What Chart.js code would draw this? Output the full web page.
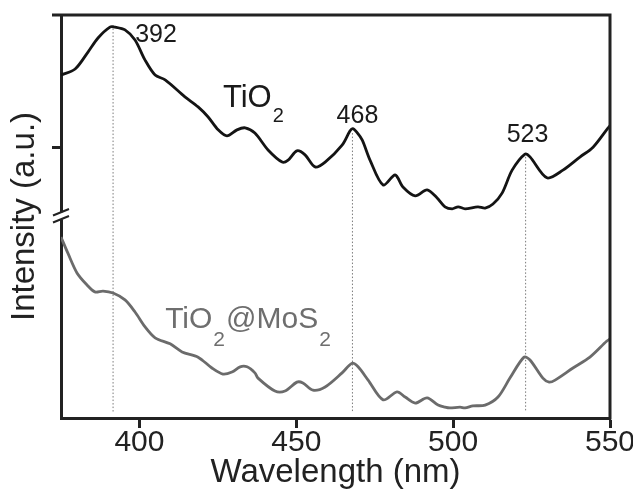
<!DOCTYPE html>
<html>
<head>
<meta charset="utf-8">
<script src="https://cdn.jsdelivr.net/npm/chart.js@4/dist/chart.umd.min.js"></script>
<style>
  html, body { margin: 0; padding: 0; background: #fff; }
  #wrap { width: 633px; height: 490px; position: relative; }
</style>
</head>
<body>
<div id="wrap"><canvas id="chart"></canvas></div>
<script>
// wavelength (nm) / intensity (a.u.)
const tio2Nm = [375, 379.5, 383.6, 386.8, 390.6, 392.2, 395.4, 398.6, 401.8, 405.0, 408.2, 414.5, 418.7, 421.9, 425.1, 427.9, 431.1, 433.7, 436.8, 441.0, 445.5, 447.4, 450.2, 452.8, 456.0, 459.2, 464.6, 467.1, 468.0, 469.2, 471.0, 473.5, 477.7, 481.5, 484.0, 487.9, 491.7, 494.9, 497.4, 499.7, 501.6, 503.8, 507.9, 510.2, 512.7, 515.6, 518.8, 522.9, 524.5, 529.9, 535.0, 540.5, 544.6, 549.4, 550];
const tio2Int = [85.1, 86.6, 90.8, 94.3, 97.0, 97.0, 96.3, 93.8, 88.8, 85.1, 83.9, 79.7, 77.2, 74.7, 71.5, 70.0, 71.5, 72.0, 70.7, 66.5, 63.5, 64.0, 66.3, 65.3, 62.3, 63.5, 67.7, 71.2, 71.8, 71.0, 69.0, 64.0, 57.8, 60.3, 57.3, 55.1, 56.6, 54.6, 52.4, 51.9, 52.4, 51.9, 52.4, 52.1, 53.1, 55.8, 61.5, 65.5, 64.8, 59.6, 61.5, 64.8, 67.2, 72.0, 72.5];

const mosNm = [375, 377.2, 380.1, 383.3, 385.8, 388.4, 391.6, 395.4, 398.6, 401.8, 405.0, 409.8, 413.6, 418.7, 423.1, 426.6, 429.5, 432.1, 434.3, 436.8, 437.8, 443.2, 446.4, 450.2, 452.1, 455.3, 459.2, 464.6, 467.8, 469.7, 472.9, 477.7, 482.1, 484.7, 487.9, 491.7, 495.2, 497.4, 499.0, 502.2, 503.8, 506.3, 510.2, 514.3, 518.1, 522.6, 524.5, 528.6, 530.6, 532.5, 538.2, 543.6, 549.0, 550];
const mosInt = [44.9, 40.9, 36.0, 33.0, 31.3, 31.5, 31.0, 29.3, 26.3, 22.6, 19.9, 18.4, 16.4, 15.1, 12.4, 10.9, 11.4, 12.7, 12.7, 11.2, 9.9, 6.7, 6.7, 8.9, 8.7, 6.9, 7.7, 11.2, 13.6, 12.7, 9.4, 4.5, 6.5, 5.2, 3.7, 5.0, 3.2, 2.7, 2.5, 2.7, 2.5, 3.0, 3.2, 5.2, 9.9, 15.1, 14.4, 9.9, 8.9, 9.4, 12.4, 15.1, 19.1, 19.6];

const peakNm = [391.6, 467.9, 523.1];
const peakTop = [97.5, 70.7, 64.8];
const peakBottom = 1.6;
const peakLabels = ["392", "468", "523"];

const xTicks = [400, 450, 500, 550];
const yTicks = [67.2];
const yBreak = 50;

const FONT = "'Liberation Sans', Arial, Helvetica, sans-serif";

function pts(xs, ys) {
  return xs.map((x, i) => ({ x: x, y: ys[i] }));
}

const datasets = [
  {
    data: pts(tio2Nm, tio2Int),
    borderColor: "#141414",
    borderWidth: 2.8,
    tension: 0.3,
    pointRadius: 0
  },
  {
    data: pts(mosNm, mosInt),
    borderColor: "#6b6b6b",
    borderWidth: 2.8,
    tension: 0.3,
    pointRadius: 0
  }
];

peakNm.forEach((nm, i) => {
  datasets.push({
    data: [{ x: nm, y: peakTop[i] }, { x: nm, y: peakBottom }],
    borderColor: "#7a7a7a",
    borderWidth: 1,
    borderDash: [1.5, 2],
    pointRadius: 0
  });
});

// text labels, frame and axis break
const decor = {
  id: "decor",
  afterDraw(chart) {
    const ctx = chart.ctx;
    const xs = chart.scales.x, ys = chart.scales.y;
    const a = chart.chartArea;
    ctx.save();

    // frame top and right
    ctx.strokeStyle = "#222";
    ctx.lineWidth = 3;
    ctx.beginPath();
    ctx.moveTo(a.left - 9, a.top);
    ctx.lineTo(a.right + 1.5, a.top);
    ctx.moveTo(a.right, a.top);
    ctx.lineTo(a.right, a.bottom + 1.5);
    ctx.stroke();

    // axis break
    const L = a.left, p = ys.getPixelForValue(yBreak);
    ctx.fillStyle = "#fff";
    ctx.fillRect(L - 3, p - 4.25, 6, 7);
    ctx.lineWidth = 2;
    ctx.beginPath();
    ctx.moveTo(L - 8, p - 1);
    ctx.lineTo(L + 8, p - 7.5);
    ctx.moveTo(L - 8, p + 6);
    ctx.lineTo(L + 8, p - 0.5);
    ctx.stroke();

    // peak numbers
    ctx.fillStyle = "#1a1a1a";
    ctx.font = "25px " + FONT;
    ctx.textAlign = "center";
    ctx.textBaseline = "alphabetic";
    const numPos = [[405.3, 93.3], [469.5, 73.2], [523.7, 68.5]];
    peakLabels.forEach((t, i) => {
      ctx.fillText(t, xs.getPixelForValue(numPos[i][0]), ys.getPixelForValue(numPos[i][1]));
    });

    // series names with subscripts
    function formula(parts, x, y, size, subSize, drop, color) {
      ctx.fillStyle = color;
      ctx.textAlign = "left";
      let cx = x;
      parts.forEach(pt => {
        if (pt.sub) {
          ctx.font = subSize + "px " + FONT;
          ctx.fillText(pt.t, cx + 1, y + drop);
          cx += ctx.measureText(pt.t).width + 2;
        } else {
          ctx.font = size + "px " + FONT;
          ctx.fillText(pt.t, cx, y);
          cx += ctx.measureText(pt.t).width;
        }
      });
    }
    formula([{ t: "TiO" }, { t: "2", sub: true }],
      xs.getPixelForValue(426.6), ys.getPixelForValue(77.2), 31, 20, 15, "#1a1a1a");
    formula([{ t: "TiO" }, { t: "2", sub: true }, { t: "@MoS" }, { t: "2", sub: true }],
      xs.getPixelForValue(408.2), ys.getPixelForValue(22.3), 30, 21, 18, "#6e6e6e");

    ctx.restore();
  }
};

new Chart(document.getElementById("chart"), {
  type: "line",
  data: { datasets: datasets },
  options: {
    responsive: true,
    maintainAspectRatio: false,
    animation: false,
    layout: { padding: { top: 15, right: 23, left: 0, bottom: 0 } },
    plugins: { legend: { display: false }, tooltip: { enabled: false } },
    scales: {
      x: {
        type: "linear",
        min: 375,
        max: 550,
        afterBuildTicks: s => { s.ticks = xTicks.map(v => ({ value: v })); },
        afterFit: s => { s.height = 72; s.paddingLeft = 0; s.paddingRight = 0; },
        ticks: { color: "#222", font: { family: FONT, size: 30 }, padding: -3, maxRotation: 0 },
        grid: { drawOnChartArea: false, tickLength: 10, tickWidth: 3, color: "#222" },
        border: { display: true, width: 3, color: "#222" },
        title: {
          display: true,
          text: "Wavelength (nm)",
          color: "#222",
          font: { family: FONT, size: 33 },
          padding: { top: 0, bottom: -3 }
        }
      },
      y: {
        type: "linear",
        min: 0,
        max: 100,
        afterBuildTicks: s => { s.ticks = yTicks.map(v => ({ value: v })); },
        afterFit: s => { s.width = 61; },
        ticks: { callback: () => "" },
        grid: { drawOnChartArea: false, tickLength: 9, tickWidth: 3, color: "#222" },
        border: { display: true, width: 3, color: "#222" },
        title: {
          display: true,
          text: "Intensity (a.u.)",
          color: "#222",
          font: { family: FONT, size: 33 },
          padding: { top: 5, bottom: 0 }
        }
      }
    }
  },
  plugins: [decor]
});
</script>
</body>
</html>
